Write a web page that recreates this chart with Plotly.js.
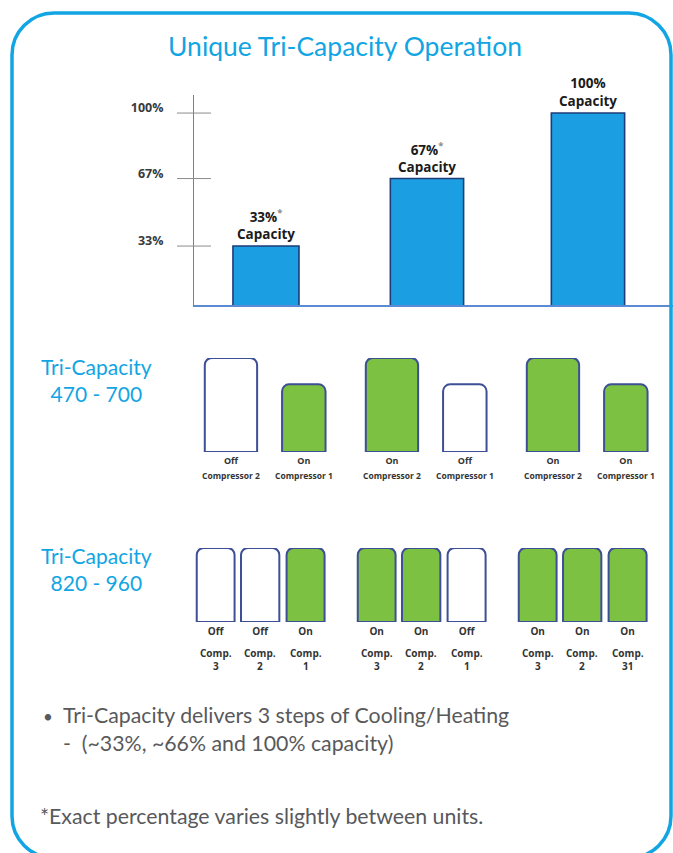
<!DOCTYPE html>
<html><head><meta charset="utf-8">
<script src="https://cdn.plot.ly/plotly-3.0.1.min.js"></script>
<style>html,body{margin:0;padding:0;background:#fff;overflow:hidden}#chart{width:673px;height:853px}</style>
</head><body><div id="chart"></div>
<script>
// ---------------- data ----------------
const chartTitle = 'Unique Tri-Capacity Operation';
const capacitySteps = [0, 1, 2];
const capacityValues = [33, 67, 100];
const capacityLabels = ['33%', '67%', '100%'];
const capacityVaries = [true, true, false];
const yTickValues = [33, 67, 100];
const yTickLabels = ['33%', '67%', '100%'];

const row1Title = 'Tri-Capacity<br>470 - 700';
const row1Names = ['Compressor 2', 'Compressor 1'];
const row1Sizes = [1.0, 0.72];
const row1States = [['Off', 'On'], ['On', 'Off'], ['On', 'On']];

const row2Title = 'Tri-Capacity<br>820 - 960';
const row2Numbers = [['3', '2', '1'], ['3', '2', '1'], ['3', '2', '31']];
const row2Sizes = [1.0, 1.0, 1.0];
const row2States = [['Off', 'Off', 'On'], ['On', 'On', 'Off'], ['On', 'On', 'On']];

const bulletLines = ['Tri-Capacity delivers 3 steps of Cooling/Heating', '-&nbsp;&nbsp;(~33%, ~66% and 100% capacity)'];
const footnote = '*Exact percentage varies slightly between units.';

// ---------------- layout helpers ----------------
const W = 673, H = 853;
const px = x => x / W;
const py = y => 1 - y / H;

const BLUE = '#12a5e3';
const BAR_BLUE = '#1c9fe2';
const NAVY = '#1d3c78';
const GREEN = '#7cc142';
const BOX_LINE = '#3d4f95';
const LABEL_FONT = 'Open Sans, Noto Sans, sans-serif';
const TEXT_FONT = 'Lato, Noto Sans, sans-serif';

const xRange = [-0.447, 2.528];
const xDomain = [px(194), 1];

const traces = [];
const annotations = [];

// capacity bars
traces.push({
  type: 'bar', x: capacitySteps, y: capacityValues,
  width: [0.41, 0.455, 0.455],
  marker: {color: BAR_BLUE, line: {color: NAVY, width: 1.6}},
  hoverinfo: 'skip', showlegend: false, xaxis: 'x', yaxis: 'y'
});
capacitySteps.forEach((s, i) => {
  const star = capacityVaries[i] ? "<span style='color:#8a8a8a'><sup>*</sup></span>" : '';
  annotations.push({
    xref: 'x', yref: 'y', x: s, y: capacityValues[i], yanchor: 'bottom', yshift: 1,
    text: capacityLabels[i] + star + '<br>Capacity', showarrow: false,
    font: {family: LABEL_FONT, size: 13.5, color: '#1b1b1b', weight: 'bold'}
  });
});

// compressor rows
function compressorRow(sizes, states, nameFn, offs, wids, xa, ya) {
  const tickvals = [], ticktext = [], names = [];
  sizes.forEach((sz, c) => {
    const colors = states.map(st => st[c] === 'On' ? GREEN : '#ffffff');
    traces.push({
      type: 'bar', x: capacitySteps, y: capacitySteps.map(() => sz),
      offset: offs[c], width: wids[c],
      marker: {color: colors, line: {color: BOX_LINE, width: 2}, cornerradius: 7},
      cliponaxis: false, hoverinfo: 'skip', showlegend: false,
      xaxis: xa, yaxis: ya
    });
    capacitySteps.forEach((g, gi) => {
      const xc = g + offs[c] + wids[c] / 2;
      tickvals.push(xc);
      ticktext.push(states[gi][c]);
      names.push({x: xc, text: nameFn(gi, c)});
    });
  });
  return {tickvals, ticktext, names};
}

const r1 = compressorRow(row1Sizes, row1States, (g, c) => row1Names[c],
  [-0.38, 0.10], [0.325, 0.27], 'x2', 'y2');
const r2 = compressorRow(row2Sizes, row2States, (g, c) => 'Comp.<br>' + row2Numbers[g][c],
  [-0.43, -0.155, 0.128], [0.235, 0.238, 0.236], 'x3', 'y3');

r1.names.forEach(n => annotations.push({
  xref: 'x2', yref: 'paper', x: n.x, y: py(476), yanchor: 'middle', text: n.text, showarrow: false,
  font: {family: LABEL_FONT, size: 8.5, color: '#333', weight: 'bold'}
}));
r2.names.forEach(n => annotations.push({
  xref: 'x3', yref: 'paper', x: n.x, y: py(659), yanchor: 'middle', text: n.text, showarrow: false,
  font: {family: LABEL_FONT, size: 10, color: '#333', weight: 'bold'}
}));

// side titles
[[row1Title, 380], [row2Title, 569]].forEach(([t, y]) => annotations.push({
  xref: 'paper', yref: 'paper', x: px(96), y: py(y), xanchor: 'center', yanchor: 'middle',
  text: t, showarrow: false, align: 'center',
  font: {family: TEXT_FONT, size: 21, color: BLUE}
}));

// bullet + footnote
annotations.push({
  xref: 'paper', yref: 'paper', x: px(41), y: py(716), xanchor: 'left', yanchor: 'middle',
  text: '•', showarrow: false, font: {family: TEXT_FONT, size: 17, color: '#58595b'}
});
annotations.push({
  xref: 'paper', yref: 'paper', x: px(61), y: py(729), xanchor: 'left', yanchor: 'middle',
  text: bulletLines.join('<br>'), align: 'left', showarrow: false,
  font: {family: TEXT_FONT, size: 21.3, color: '#58595b'}
});
annotations.push({
  xref: 'paper', yref: 'paper', x: px(38), y: py(816), xanchor: 'left', yanchor: 'middle',
  text: footnote, showarrow: false, font: {family: TEXT_FONT, size: 21.3, color: '#58595b'}
});

// border path (rounded rectangle)
function roundRect(x0, y0, x1, y1, r) {
  const k = 0.552 * r;
  const P = (x, y) => px(x) + ',' + py(y);
  return 'M' + P(x0, y1 - r) + ' L' + P(x0, y0 + r) +
    ' C' + P(x0, y0 + r - k) + ' ' + P(x0 + r - k, y0) + ' ' + P(x0 + r, y0) +
    ' L' + P(x1 - r, y0) +
    ' C' + P(x1 - r + k, y0) + ' ' + P(x1, y0 + r - k) + ' ' + P(x1, y0 + r) +
    ' L' + P(x1, y1 - r) +
    ' C' + P(x1, y1 - r + k) + ' ' + P(x1 - r + k, y1) + ' ' + P(x1 - r, y1) +
    ' L' + P(x0 + r, y1) +
    ' C' + P(x0 + r - k, y1) + ' ' + P(x0, y1 - r + k) + ' ' + P(x0, y1 - r) + ' Z';
}

const shapes = [{
  type: 'path', xref: 'paper', yref: 'paper', path: roundRect(12, 13, 671, 858, 42),
  line: {color: BLUE, width: 3.5}, fillcolor: 'rgba(0,0,0,0)', layer: 'above'
}];
// y tick marks crossing the axis
yTickValues.forEach(v => shapes.push({
  type: 'line', xref: 'x domain', yref: 'y', x0: -17 / 479, x1: 17 / 479, y0: v, y1: v,
  line: {color: '#8c8c8c', width: 1}
}));

const hiddenY = {visible: false, range: [0, 1], fixedrange: true};
const layout = {
  width: W, height: H, margin: {l: 0, r: 0, t: 0, b: 0},
  paper_bgcolor: '#ffffff', plot_bgcolor: 'rgba(0,0,0,0)',
  showlegend: false, barmode: 'overlay',
  title: {text: chartTitle, x: px(345), xanchor: 'center', y: py(47), yanchor: 'middle',
    font: {family: TEXT_FONT, size: 26.5, color: BLUE}},
  xaxis: {domain: xDomain, range: xRange, showline: true, linecolor: '#5b8bd4', linewidth: 1.5,
    showticklabels: false, ticks: '', showgrid: false, zeroline: false, anchor: 'y', fixedrange: true},
  yaxis: {domain: [py(305), py(95)], range: [3.3, 109.1], showline: true, linecolor: '#4f86d6', linewidth: 1,
    tickvals: yTickValues, ticktext: yTickLabels, ticks: '', showgrid: false, zeroline: false,
    ticklabelstandoff: 27, ticklabelshift: -5, anchor: 'x', fixedrange: true,
    tickfont: {family: LABEL_FONT, size: 12.5, color: '#3a3a3a', weight: 'bold'}},
  xaxis2: {domain: xDomain, range: xRange, anchor: 'y2', showline: false, showgrid: false, zeroline: false,
    ticks: '', tickvals: r1.tickvals, ticktext: r1.ticktext, ticklabelstandoff: 2, fixedrange: true,
    tickfont: {family: LABEL_FONT, size: 9, color: '#333', weight: 'bold'}},
  yaxis2: Object.assign({domain: [py(452), py(358)], anchor: 'x2'}, hiddenY),
  xaxis3: {domain: xDomain, range: xRange, anchor: 'y3', showline: false, showgrid: false, zeroline: false,
    ticks: '', tickvals: r2.tickvals, ticktext: r2.ticktext, ticklabelstandoff: 2, fixedrange: true,
    tickfont: {family: LABEL_FONT, size: 10, color: '#333', weight: 'bold'}},
  yaxis3: Object.assign({domain: [py(622), py(548)], anchor: 'x3'}, hiddenY),
  annotations: annotations,
  shapes: shapes
};

Plotly.newPlot('chart', traces, layout, {displayModeBar: false, staticPlot: true});
</script>
</body></html>
